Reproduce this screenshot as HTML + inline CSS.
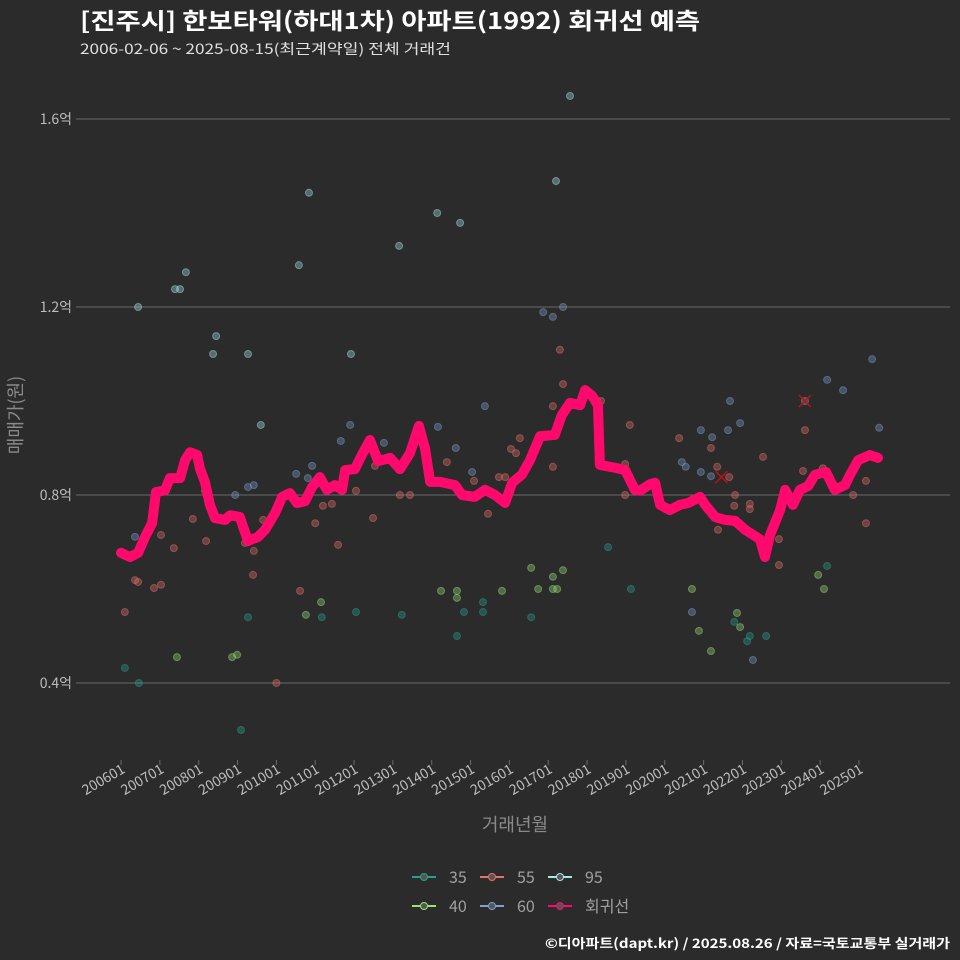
<!DOCTYPE html>
<html><head><meta charset="utf-8"><style>
html,body{margin:0;padding:0;background:#2b2b2b;}
svg{display:block;font-family:"Noto Sans CJK KR","Liberation Sans",sans-serif;}
</style></head><body>
<svg id="chart" width="960" height="960" viewBox="0 0 960 960" xmlns="http://www.w3.org/2000/svg">
<rect width="960" height="960" fill="#2b2b2b"/>
<text x="80" y="29" fill="#ffffff" font-size="23" font-weight="bold" textLength="620" lengthAdjust="spacingAndGlyphs">[진주시] 한보타워(하대1차) 아파트(1992) 회귀선 예측</text>
<text x="80" y="54" fill="#e0e0e0" font-size="14" textLength="371" lengthAdjust="spacingAndGlyphs">2006-02-06 ~ 2025-08-15(최근계약일) 전체 거래건</text>
<g id="grid"></g>
<g id="points"></g>
<g id="line"></g>
<g id="axes"></g>
<text transform="translate(22,415) rotate(-90)" text-anchor="middle" fill="#8a8a8a" font-size="18">매매가(원)</text>
<text x="515" y="831" text-anchor="middle" fill="#8a8a8a" font-size="18">거래년월</text>
<g id="legend"></g>
<text x="950" y="948" text-anchor="end" fill="#ffffff" font-size="13" font-weight="bold" textLength="405" lengthAdjust="spacingAndGlyphs">©디아파트(dapt.kr) / 2025.08.26 / 자료=국토교통부 실거래가</text>
</svg>
<script>
const yTicks=[0.4,0.8,1.2,1.6];
const yTickLabels=["0.4억","0.8억","1.2억","1.6억"];
const xTickYears=[2006,2007,2008,2009,2010,2011,2012,2013,2014,2015,2016,2017,2018,2019,2020,2021,2022,2023,2024,2025];
const xTickLabels=["200601","200701","200801","200901","201001","201101","201201","201301","201401","201501","201601","201701","201801","201901","202001","202101","202201","202301","202401","202501"];
const trendT=[2006.00,2006.23,2006.44,2006.62,2006.80,2006.90,2007.13,2007.26,2007.52,2007.65,2007.78,2007.96,2008.03,2008.16,2008.29,2008.42,2008.68,2008.81,2009.06,2009.27,2009.53,2009.71,2009.97,2010.15,2010.35,2010.53,2010.74,2010.92,2011.12,2011.30,2011.51,2011.69,2011.77,2012.02,2012.20,2012.41,2012.62,2012.93,2013.18,2013.44,2013.67,2013.83,2013.96,2014.21,2014.60,2014.78,2015.11,2015.37,2015.63,2015.89,2016.07,2016.32,2016.53,2016.79,2017.17,2017.35,2017.56,2017.82,2017.95,2018.13,2018.28,2018.33,2018.72,2018.98,2019.23,2019.36,2019.62,2019.75,2019.88,2020.13,2020.39,2020.60,2020.91,2021.04,2021.30,2021.55,2021.81,2022.07,2022.45,2022.58,2022.71,2022.97,2023.10,2023.30,2023.48,2023.69,2023.87,2024.15,2024.38,2024.64,2024.77,2024.98,2025.28,2025.49];
const trendV=[0.677,0.668,0.677,0.711,0.740,0.806,0.810,0.836,0.836,0.874,0.891,0.885,0.857,0.828,0.779,0.751,0.747,0.757,0.753,0.702,0.711,0.726,0.762,0.796,0.804,0.783,0.787,0.817,0.838,0.811,0.821,0.811,0.853,0.855,0.885,0.917,0.872,0.879,0.855,0.889,0.947,0.898,0.828,0.828,0.821,0.800,0.796,0.811,0.800,0.783,0.826,0.843,0.874,0.925,0.928,0.970,0.996,0.991,1.023,1.011,0.991,0.864,0.858,0.853,0.811,0.809,0.823,0.826,0.779,0.768,0.779,0.783,0.796,0.779,0.753,0.747,0.745,0.726,0.706,0.668,0.715,0.768,0.811,0.779,0.811,0.819,0.843,0.849,0.811,0.821,0.843,0.874,0.885,0.879];
const s95T=[2006.44,2007.39,2007.52,2007.67,2010.84,2010.58,2008.45,2008.37,2009.27,2013.16,2014.14,2014.73,2017.56,2017.20,2011.92,2009.60];
const s95V=[1.200,1.238,1.238,1.274,1.443,1.289,1.138,1.100,1.100,1.330,1.400,1.379,1.649,1.468,1.100,0.949];
const s60T=[2016.87,2017.12,2017.38,2014.16,2011.90,2015.37,2018.26,2021.68,2021.94,2024.18,2024.59,2025.34,2025.52,2021.63,2020.93,2021.22,2020.44,2020.54,2020.93,2021.19,2008.94,2009.27,2009.42,2010.51,2010.92,2011.66,2012.77,2014.62,2015.04,2010.81,2006.36,2020.70,2022.27,2023.61];
const s60V=[1.189,1.179,1.200,0.945,0.949,0.989,1.000,1.000,0.953,1.045,1.023,1.089,0.943,0.938,0.938,0.923,0.870,0.860,0.849,0.840,0.800,0.817,0.821,0.845,0.862,0.915,0.911,0.900,0.849,0.836,0.711,0.551,0.449,1.000];
const s55T=[2006.10,2006.36,2006.44,2006.85,2007.03,2007.03,2007.36,2007.85,2008.19,2008.16,2009.40,2009.42,2009.19,2009.66,2010.00,2010.61,2011.00,2011.20,2011.43,2011.59,2012.05,2012.49,2012.54,2013.18,2013.44,2014.39,2015.09,2015.45,2015.73,2015.89,2016.04,2016.27,2016.17,2017.12,2017.12,2017.30,2017.38,2018.36,2019.10,2018.98,2018.98,2020.37,2021.19,2021.35,2021.37,2021.66,2021.81,2021.79,2022.19,2022.19,2021.81,2022.53,2022.94,2022.94,2023.61,2023.56,2024.07,2025.18,2024.85,2025.18];
const s55V=[0.551,0.619,0.615,0.602,0.609,0.715,0.687,0.749,0.702,0.809,0.630,0.681,0.698,0.747,0.400,0.596,0.740,0.777,0.781,0.694,0.809,0.751,0.862,0.800,0.800,0.870,0.830,0.760,0.838,0.838,0.898,0.921,0.889,0.989,0.860,1.109,1.036,1.000,0.949,0.866,0.800,0.921,0.900,0.860,0.726,0.838,0.800,0.777,0.781,0.770,0.747,0.881,0.706,0.651,0.938,0.851,0.857,0.830,0.800,0.740];
const s35T=[2006.10,2006.46,2009.09,2009.27,2011.17,2012.05,2013.23,2014.65,2014.83,2015.32,2015.32,2016.56,2018.54,2019.13,2021.79,2022.12,2022.19,2022.61,2024.18];
const s35V=[0.432,0.400,0.300,0.540,0.540,0.551,0.545,0.500,0.551,0.551,0.572,0.540,0.689,0.600,0.530,0.489,0.500,0.500,0.649];
const s40T=[2007.44,2008.86,2008.99,2010.76,2011.15,2014.24,2014.65,2014.65,2015.81,2016.56,2016.74,2017.12,2017.12,2017.23,2017.38,2020.70,2020.88,2021.19,2021.86,2021.94,2023.95,2024.10];
const s40V=[0.455,0.455,0.460,0.545,0.572,0.596,0.596,0.581,0.596,0.645,0.600,0.626,0.600,0.600,0.640,0.600,0.511,0.468,0.549,0.519,0.630,0.600];
const crossT=[2023.61,2021.46];
const crossV=[1.000,0.838];

const NS="http://www.w3.org/2000/svg";
function xS(t){return 121+(t-2006)*38.84;}
function yS(v){return 495-(v-0.8)*470;}
function mk(tag,attrs,parent){const e=document.createElementNS(NS,tag);for(const k in attrs)e.setAttribute(k,attrs[k]);parent.appendChild(e);return e;}
const grid=document.getElementById('grid'),axes=document.getElementById('axes');
yTicks.forEach((v,i)=>{
  const l=mk('line',{x1:76,x2:950,y1:yS(v),y2:yS(v),stroke:'#6a6a6a','stroke-width':1},grid);
  
  
  const t=mk('text',{x:72,y:yS(v)+5,'text-anchor':'end',fill:'#bdbdbd','font-size':14},axes);
  t.textContent=yTickLabels[i];
  
  
});
xTickYears.forEach((yr,i)=>{
  const x=xS(yr);
  const tk=mk('line',{x1:x,x2:x,y1:760,y2:765,stroke:'#6a6a6a'},axes);
  
  
  const t=mk('text',{transform:`translate(${x+5},${772}) rotate(-30)`,'text-anchor':'end',fill:'#bdbdbd','font-size':14},axes);
  t.textContent=xTickLabels[i];
  
  
});
const pts=document.getElementById('points');
const series=[[s95T,s95V,'#a8e8e8','95'],[s60T,s60V,'#7f9fcc','60'],[s55T,s55V,'#e8706c','55'],[s35T,s35V,'#2aa08c','35'],[s40T,s40V,'#9ae07a','40']];
series.forEach(([T,V,c,n])=>{
  T.forEach((t,i)=>{
    const p=mk('circle',{cx:xS(t),cy:yS(V[i]),r:3.5,fill:c,'fill-opacity':0.35,stroke:c,'stroke-opacity':0.45,'stroke-width':1},pts);
    
    
  });
});
crossT.forEach((t,i)=>{
  const x=xS(t),y=yS(crossV[i]);
  const c=mk('path',{d:`M${x-6},${y-6}L${x+6},${y+6}M${x+6},${y-6}L${x-6},${y+6}`,stroke:'#c01010','stroke-width':1.5},pts);
  
  
});
const ln=mk('polyline',{points:trendT.map((t,i)=>xS(t)+','+yS(trendV[i])).join(' '),fill:'none',stroke:'#ff0a6c','stroke-width':10,'stroke-linejoin':'round','stroke-linecap':'round'},document.getElementById('line'));


const legendNames=["35","40","55","60","95","회귀선"];
const legendColors=['#2aa08c','#9ae07a','#e8706c','#7f9fcc','#a8e8e8','#ff0a6c'];
const lg=document.getElementById('legend');
legendNames.forEach((n,i)=>{
  const col=Math.floor(i/2),row=i%2;
  const x=412+col*68,y=877+row*29;
  const g=mk('g',{},lg);
  
  
  mk('line',{x1:x,x2:x+24,y1:y,y2:y,stroke:legendColors[i],'stroke-width':2},g);
  mk('circle',{cx:x+12,cy:y,r:3.5,fill:'#555',stroke:legendColors[i],'stroke-width':1},g);
  const t=mk('text',{x:x+37,y:y+6,fill:'#a0a0a0','font-size':16},g);
  t.textContent=n;
});
</script>
</body></html>
